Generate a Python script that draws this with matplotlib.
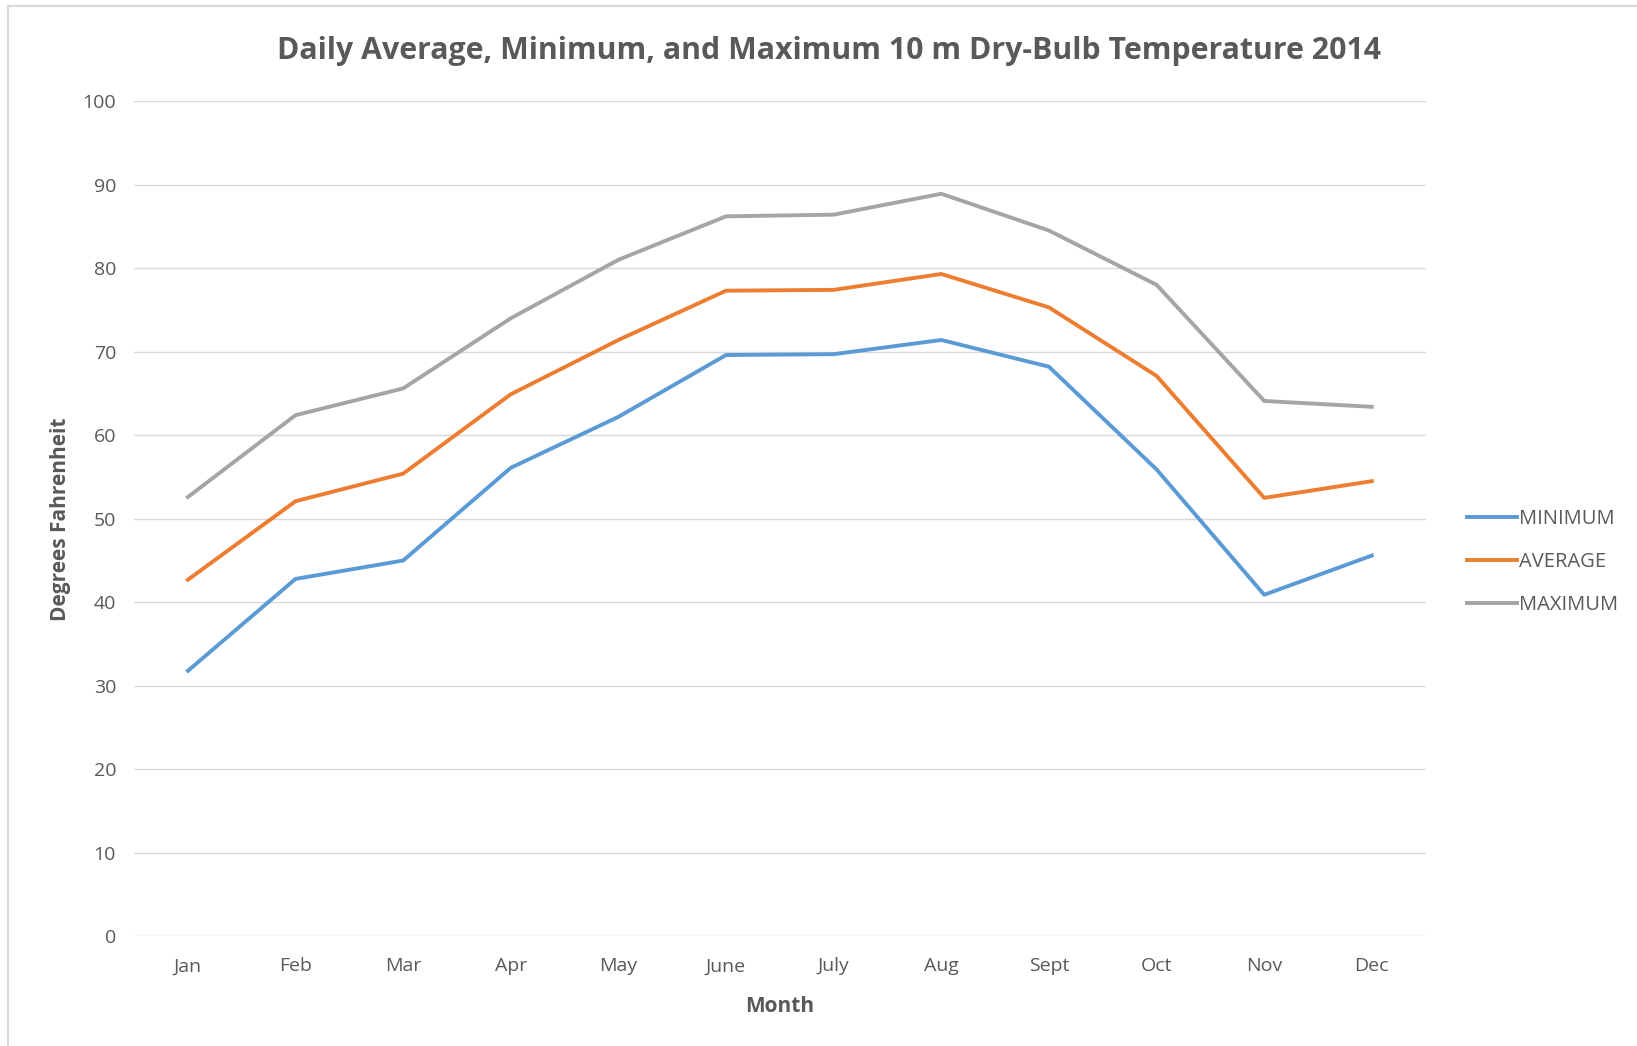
import matplotlib
matplotlib.use("Agg")
import matplotlib.pyplot as plt
from matplotlib.lines import Line2D

plt.rcParams['font.family'] = ['Open Sans', 'DejaVu Sans']

# data
months = ["Jan", "Feb", "Mar", "Apr", "May", "June", "July", "Aug", "Sept", "Oct", "Nov", "Dec"]
minimum = [31.8, 42.8, 45.0, 56.1, 62.2, 69.6, 69.7, 71.4, 68.2, 55.9, 40.9, 45.6]
average = [42.7, 52.1, 55.4, 64.9, 71.4, 77.3, 77.4, 79.3, 75.3, 67.1, 52.5, 54.5]
maximum = [52.6, 62.4, 65.6, 74.0, 81.0, 86.2, 86.4, 88.9, 84.5, 78.0, 64.1, 63.4]

fig = plt.figure(figsize=(16.37, 10.46), dpi=100)
ax = fig.add_axes([0.0819, 0.1047, 0.789, 0.7987])

x = range(len(months))
ax.plot(x, minimum, color="#5B9BD5", lw=2.8, label="MINIMUM", solid_joinstyle="round")
ax.plot(x, average, color="#ED7D31", lw=2.8, label="AVERAGE", solid_joinstyle="round")
ax.plot(x, maximum, color="#A5A5A5", lw=2.8, label="MAXIMUM", solid_joinstyle="round")

ax.set_xlim(-0.5, 11.5)
ax.set_ylim(0, 100)
ax.set_yticks(range(0, 101, 10))
ax.set_xticks(list(x))
ax.set_xticklabels(months)
ax.grid(axis="y", color="#D9D9D9", lw=1)
ax.set_axisbelow(True)
for s in ax.spines.values():
    s.set_visible(False)
ax.tick_params(length=0, colors="#595959", labelsize=14, pad=15)
ax.tick_params(axis="y", pad=13)

ax.set_title("Daily Average, Minimum, and Maximum 10 m Dry-Bulb Temperature 2014",
             fontsize=21.8, fontweight="bold", color="#595959", pad=30, x=0.538)
ax.set_xlabel("Month", fontsize=15, fontweight="bold", color="#595959", labelpad=15)
ax.set_ylabel("Degrees Fahrenheit", fontsize=15, fontweight="bold", color="#595959", labelpad=8)

leg = ax.legend(loc="center left", bbox_to_anchor=(1.018, 0.448), frameon=False,
                fontsize=14.5, labelcolor="#595959", handlelength=2.5, handletextpad=0.1,
                labelspacing=1.13)

# chart area border
fig.add_artist(Line2D([8 / 1637, 8 / 1637], [0, 1 - 6 / 1046], transform=fig.transFigure,
                      color="#D9D9D9", lw=1.5))
fig.add_artist(Line2D([8 / 1637, 1], [1 - 6 / 1046, 1 - 6 / 1046], transform=fig.transFigure,
                      color="#D9D9D9", lw=1.5))

plt.savefig("out.png", dpi=100)
